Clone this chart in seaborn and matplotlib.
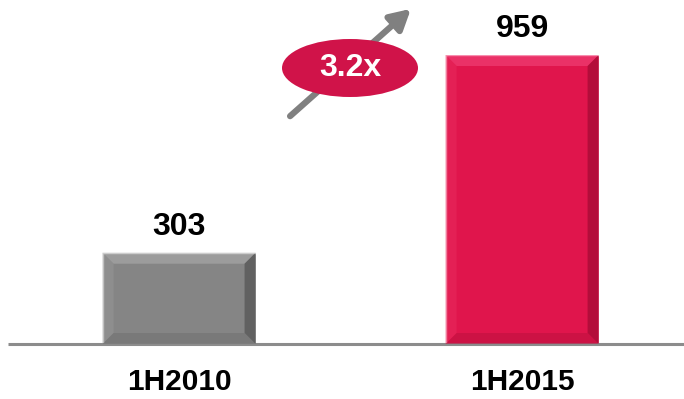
import matplotlib
matplotlib.use('Agg')
import matplotlib.pyplot as plt
import seaborn as sns
import pandas as pd
from matplotlib.patches import Ellipse, Polygon

# 数据
periods = ['1H2010', '1H2015']
values = [303, 959]
bar_colors = ['#858585', '#E0154C']
top_colors = ['#ADADAD', '#F2457A']
left_colors = ['#959595', '#E8285C']
right_colors = ['#4A4A4A', '#96092F']
bottom_colors = ['#727272', '#C01040']
growth_label = '3.2x'

sns.set_theme(style='white')
plt.rcParams['font.family'] = ['Liberation Sans', 'DejaVu Sans']

W, H = 684, 399
fig = plt.figure(figsize=(W / 100, H / 100), dpi=100)
ax = fig.add_axes([0, 55 / H, 1, 344 / H])

df = pd.DataFrame({'period': periods, 'value': values})
sns.barplot(data=df, x='period', y='value', hue='period', palette=bar_colors,
            width=0.446, legend=False, ax=ax, saturation=1)

ax.set_xlim(-0.522, 1.472)
ax.set_ylim(0, 959 * 344 / 289)
for s in ax.spines.values():
    s.set_visible(False)
ax.set_yticks([])
ax.set_xlabel('')
ax.set_ylabel('')
ax.tick_params(axis='x', length=0, pad=17)
for lab in ax.get_xticklabels():
    lab.set_fontsize(21.5)
    lab.set_fontweight('bold')
    lab.set_color('black')

# 基线
ax.plot([8 / W, 1], [0, 0], transform=ax.transAxes, color='#8C8C8C', lw=2.2,
        solid_capstyle='butt', zorder=5, clip_on=False)

# 数值标签
for i, v in enumerate(values):
    ax.annotate(str(v), (i, v), xytext=(0, 13), textcoords='offset points',
                ha='center', va='baseline', fontsize=23, fontweight='bold', color='black')

# 斜面效果
fig.canvas.draw()
b = 11
for i, patch in enumerate(ax.patches):
    bb = patch.get_window_extent()
    x0, y0, x1, y1 = bb.x0, bb.y0, bb.x1, bb.y1
    polys = [
        ([(x0, y1), (x1, y1), (x1 - b, y1 - b), (x0 + b, y1 - b)], top_colors[i]),
        ([(x0, y0), (x0, y1), (x0 + b, y1 - b), (x0 + b, y0 + b)], left_colors[i]),
        ([(x1, y0), (x1, y1), (x1 - b, y1 - b), (x1 - b, y0 + b)], right_colors[i]),
        ([(x0, y0), (x1, y0), (x1 - b, y0 + b), (x0 + b, y0 + b)], bottom_colors[i]),
    ]
    for pts, c in polys:
        fig.patches.append(Polygon(pts, closed=True, transform=None, facecolor=c,
                                   edgecolor='none', figure=fig, zorder=3, alpha=0.6))

# 增长箭头
ax.annotate('', xy=(413, H - 7), xytext=(288, H - 118),
            xycoords='figure pixels', textcoords='figure pixels',
            arrowprops=dict(arrowstyle='-|>,head_length=1.0,head_width=0.55',
                            color='#808080', lw=4.5))
ell = Ellipse((350, H - 68), 136, 58, transform=None, facecolor='#D01349',
              edgecolor='none', zorder=6)
fig.patches.append(ell)
fig.text(350 / W, (H - 68) / H, growth_label, ha='center', va='center',
         fontsize=23, fontweight='bold', color='white', zorder=7)

fig.savefig('out.png', dpi=100)
